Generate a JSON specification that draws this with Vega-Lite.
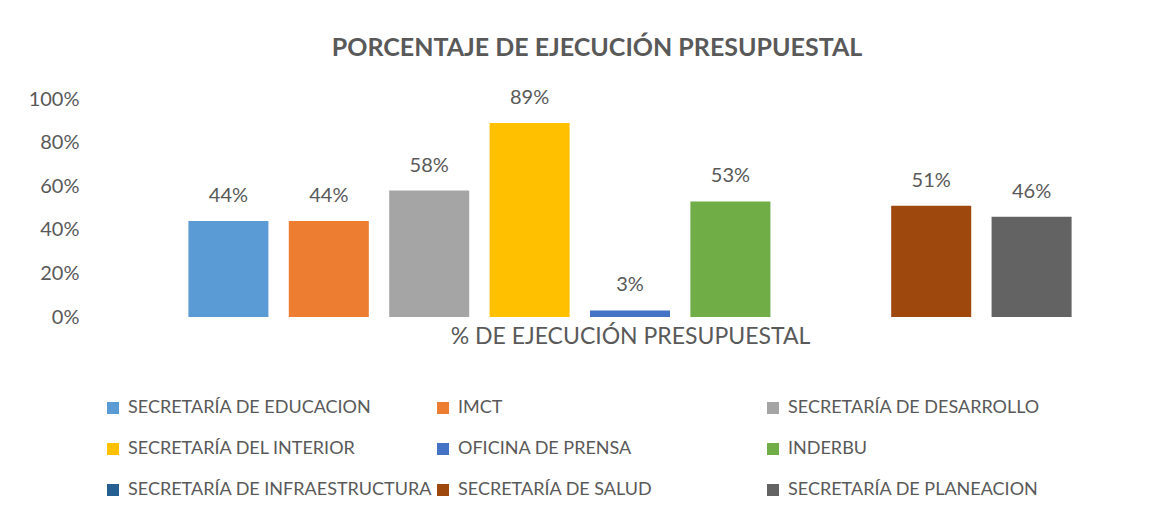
{
  "$schema": "https://vega.github.io/schema/vega-lite/v6.json",
  "width": 1084,
  "height": 218,
  "autosize": {"type": "none"},
  "padding": {"left": 88, "top": 99, "right": 2, "bottom": 199},
  "background": "white",
  "config": {
    "font": "Lato",
    "view": {"stroke": null},
    "text": {"font": "Lato"}
  },
  "title": {
    "text": "PORCENTAJE DE EJECUCIÓN PRESUPUESTAL",
    "font": "Lato",
    "fontSize": 25,
    "fontWeight": "bold",
    "color": "#595959",
    "anchor": "middle",
    "dx": -33,
    "offset": 27
  },
  "data": {
    "values": [
      {"serie": "SECRETARÍA DE EDUCACION", "pct": 0.44},
      {"serie": "IMCT", "pct": 0.44},
      {"serie": "SECRETARÍA DE DESARROLLO", "pct": 0.58},
      {"serie": "SECRETARÍA DEL INTERIOR", "pct": 0.89},
      {"serie": "OFICINA DE PRENSA", "pct": 0.03},
      {"serie": "INDERBU", "pct": 0.53},
      {"serie": "SECRETARÍA DE INFRAESTRUCTURA", "pct": null},
      {"serie": "SECRETARÍA DE SALUD", "pct": 0.51},
      {"serie": "SECRETARÍA DE PLANEACION", "pct": 0.46}
    ]
  },
  "encoding": {
    "x": {
      "field": "serie",
      "type": "nominal",
      "sort": null,
      "scale": {
        "domain": ["SECRETARÍA DE EDUCACION", "IMCT", "SECRETARÍA DE DESARROLLO", "SECRETARÍA DEL INTERIOR", "OFICINA DE PRENSA", "INDERBU", "SECRETARÍA DE INFRAESTRUCTURA", "SECRETARÍA DE SALUD", "SECRETARÍA DE PLANEACION"],
        "paddingInner": 0.203,
        "paddingOuter": 1.0
      },
      "axis": {
        "title": "% DE EJECUCIÓN PRESUPUESTAL",
        "labels": false,
        "ticks": false,
        "domain": false,
        "grid": false,
        "titleFont": "Lato",
        "titleFontSize": 23,
        "titleFontWeight": "normal",
        "titleColor": "#595959",
        "titlePadding": 8
      }
    },
    "y": {
      "field": "pct",
      "type": "quantitative",
      "scale": {"domain": [0, 1]},
      "axis": {
        "title": null,
        "format": ".0%",
        "values": [0, 0.2, 0.4, 0.6, 0.8, 1],
        "grid": false,
        "domain": false,
        "ticks": false,
        "labelFont": "Lato",
        "labelFontSize": 20,
        "labelColor": "#595959",
        "labelPadding": 9
      }
    }
  },
  "layer": [
    {
      "mark": {"type": "bar"},
      "encoding": {
        "color": {
          "field": "serie",
          "type": "nominal",
          "scale": {
            "domain": ["SECRETARÍA DE EDUCACION", "IMCT", "SECRETARÍA DE DESARROLLO", "SECRETARÍA DEL INTERIOR", "OFICINA DE PRENSA", "INDERBU", "SECRETARÍA DE INFRAESTRUCTURA", "SECRETARÍA DE SALUD", "SECRETARÍA DE PLANEACION"],
            "range": ["#5B9BD5", "#ED7D31", "#A5A5A5", "#FFC000", "#4472C4", "#70AD47", "#255E91", "#9E480E", "#636363"]
          },
          "legend": {
            "title": null,
            "orient": "none",
            "legendX": 16,
            "legendY": 300,
            "direction": "horizontal",
            "columns": 3,
            "gridAlign": "all",
            "columnPadding": 2,
            "rowPadding": 23,
            "symbolType": "square",
            "symbolSize": 144,
            "symbolStrokeWidth": 0,
            "symbolOpacity": 1,
            "labelFont": "Lato",
            "labelFontSize": 18,
            "labelColor": "#595959",
            "labelOffset": 6,
            "labelLimit": 400
          }
        }
      }
    },
    {
      "mark": {"type": "text", "baseline": "alphabetic", "dy": -19, "fontSize": 20, "font": "Lato", "color": "#595959"},
      "encoding": {
        "text": {"field": "pct", "type": "quantitative", "format": ".0%"}
      }
    }
  ]
}
